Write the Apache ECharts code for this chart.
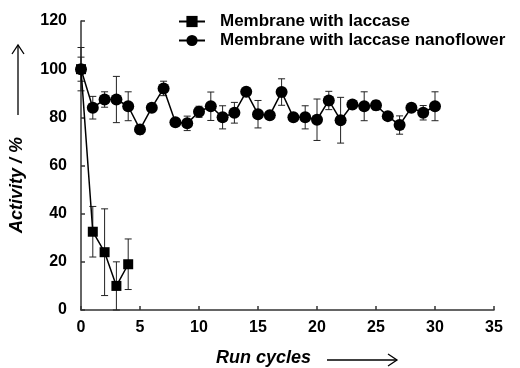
<!DOCTYPE html>
<html>
<head>
<meta charset="utf-8">
<script src="https://cdn.jsdelivr.net/npm/echarts@6/dist/echarts.min.js"></script>
<style>
  html, body { margin: 0; padding: 0; background: #fff; }
  #chart { width: 520px; height: 368px; }
</style>
</head>
<body>
<div id="chart"></div>
<script>
// membrane with laccase (free enzyme)
var laccaseCycles = [0, 1, 2, 3, 4];
var laccaseActivity = [100, 32.5, 24, 10, 19];
var laccaseErr = [9, 10.5, 18, 10, 10.5];

// membrane with laccase nanoflower
var flowerCycles = [0, 1, 2, 3, 4, 5, 6, 7, 8, 9, 10, 11, 12, 13, 14, 15, 16, 17, 18, 19, 20, 21, 22, 23, 24, 25, 26, 27, 28, 29, 30];
var flowerActivity = [100, 84, 87.4, 87.4, 84.6, 75, 84, 92, 78, 77.5, 82.3, 84.6, 80, 81.9, 90.6, 81.3, 80.9, 90.5, 80, 80, 79, 87, 78.8, 85.3, 84.6, 85, 80.5, 76.8, 84, 81.9, 84.6];
var flowerErr = [5, 4.7, 3.2, 9.6, 6, 2, 1, 3, 1, 3, 2.3, 5.9, 4.8, 4.3, 1, 5.7, 1, 5.5, 1, 4.8, 8.6, 3.8, 9.5, 1, 6, 2, 1, 3.8, 1, 3, 6];

var xTicks = [0, 35, 5];
var yTicks = [0, 120, 20];

var chart = echarts.init(document.getElementById('chart'));
var font = '"Liberation Sans", Arial, sans-serif';
var titleFont = 'italic bold 18px "Liberation Sans", Arial, sans-serif';

function pairs(xs, ys) {
    return xs.map(function (x, i) { return [x, ys[i]]; });
}
function errData(xs, ys, es) {
    return xs.map(function (x, i) { return [x, ys[i] - es[i], ys[i] + es[i]]; });
}
function renderErr(params, api) {
    var lo = api.coord([api.value(0), api.value(1)]);
    var hi = api.coord([api.value(0), api.value(2)]);
    var w = 3.5;
    var st = { stroke: '#222', lineWidth: 1 };
    return {
        type: 'group',
        children: [
            { type: 'line', shape: { x1: lo[0], y1: lo[1], x2: hi[0], y2: hi[1] }, style: st },
            { type: 'line', shape: { x1: lo[0] - w, y1: lo[1], x2: lo[0] + w, y2: lo[1] }, style: st },
            { type: 'line', shape: { x1: hi[0] - w, y1: hi[1], x2: hi[0] + w, y2: hi[1] }, style: st }
        ]
    };
}

var option = {
    animation: false,
    backgroundColor: '#fff',
    grid: { left: 81, right: 26, top: 21, bottom: 58 },
    legend: {
        orient: 'vertical',
        left: 173,
        top: 8,
        itemGap: 2,
        itemWidth: 26,
        itemHeight: 14,
        data: ['Membrane with laccase', 'Membrane with laccase nanoflower'],
        textStyle: { fontFamily: font, fontWeight: 'bold', fontSize: 17, color: '#000', padding: [0, 0, 0, 10] }
    },
    xAxis: {
        type: 'value',
        min: xTicks[0], max: xTicks[1], interval: xTicks[2],
        splitLine: { show: false },
        axisLine: { onZero: false, lineStyle: { color: '#333', width: 1.5 } },
        axisTick: { inside: true, length: 4, lineStyle: { color: '#333', width: 1.5 } },
        axisLabel: { margin: 10, fontFamily: font, fontWeight: 'bold', fontSize: 16, color: '#000' }
    },
    yAxis: {
        type: 'value',
        min: yTicks[0], max: yTicks[1], interval: yTicks[2],
        splitLine: { show: false },
        axisLine: { show: true, lineStyle: { color: '#333', width: 1.5 } },
        axisTick: { show: true, inside: true, length: 4, lineStyle: { color: '#333', width: 1.5 } },
        axisLabel: { margin: 14, fontFamily: font, fontWeight: 'bold', fontSize: 16, color: '#000' }
    },
    graphic: [
        { type: 'text', left: 216, top: 349, style: { text: 'Run cycles', fill: '#000', font: titleFont } },
        { type: 'line', shape: { x1: 327, y1: 360, x2: 397, y2: 360 }, style: { stroke: '#000', lineWidth: 1.3 } },
        { type: 'polyline', shape: { points: [[388, 354], [397, 360], [388, 366]] }, style: { stroke: '#000', lineWidth: 1.3, fill: null } },
        { type: 'text', x: 8, y: 233, rotation: Math.PI / 2, style: { text: 'Activity / %', fill: '#000', font: titleFont } },
        { type: 'line', shape: { x1: 18, y1: 45, x2: 18, y2: 115 }, style: { stroke: '#000', lineWidth: 1.3 } },
        { type: 'polyline', shape: { points: [[12, 54], [18, 45], [24, 54]] }, style: { stroke: '#000', lineWidth: 1.3, fill: null } }
    ],
    series: [
        {
            type: 'custom',
            renderItem: renderErr,
            encode: { x: 0, y: [1, 2] },
            data: errData(laccaseCycles, laccaseActivity, laccaseErr),
            z: 1
        },
        {
            type: 'custom',
            renderItem: renderErr,
            encode: { x: 0, y: [1, 2] },
            data: errData(flowerCycles, flowerActivity, flowerErr),
            z: 1
        },
        {
            name: 'Membrane with laccase',
            type: 'line',
            data: pairs(laccaseCycles, laccaseActivity),
            symbol: 'rect',
            symbolSize: 10,
            lineStyle: { color: '#000', width: 1.5 },
            itemStyle: { color: '#000' },
            z: 3
        },
        {
            name: 'Membrane with laccase nanoflower',
            type: 'line',
            data: pairs(flowerCycles, flowerActivity),
            symbol: 'circle',
            symbolSize: 12,
            lineStyle: { color: '#000', width: 1.5 },
            itemStyle: { color: '#000' },
            z: 3
        }
    ]
};
chart.setOption(option);
</script>
</body>
</html>
